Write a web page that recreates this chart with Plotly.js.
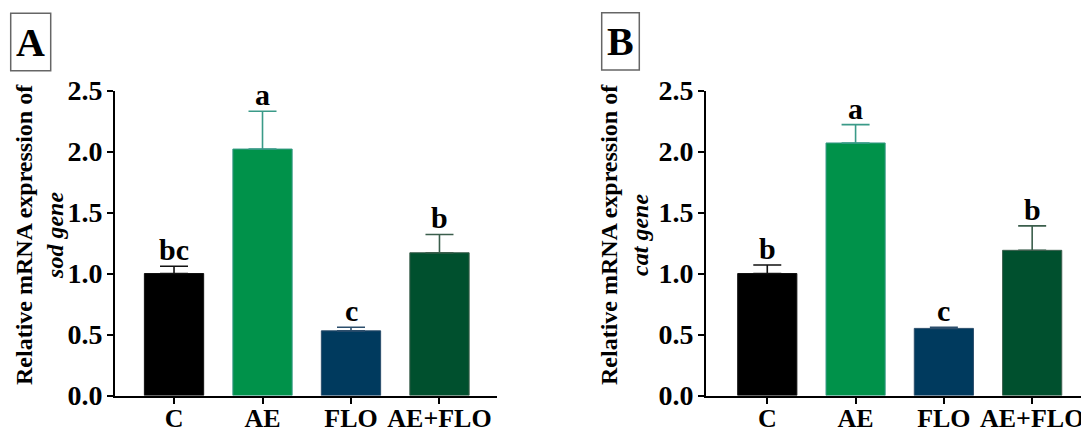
<!DOCTYPE html>
<html>
<head>
<meta charset="utf-8">
<script src="https://cdn.plot.ly/plotly-3.0.1.min.js"></script>
<style>html,body{margin:0;padding:0;background:#fff;}#chart{width:1081px;height:431px;}</style>
</head>
<body>
<div id="chart"></div>
<script>
var categories = ['C', 'AE', 'FLO', 'AE+FLO'];
var sodMean = [1.0, 2.02, 0.53, 1.17];
var sodErr = [0.06, 0.31, 0.03, 0.15];
var sodLetters = ['bc', 'a', 'c', 'b'];
var catMean = [1.0, 2.07, 0.55, 1.19];
var catErr = [0.07, 0.15, 0.01, 0.20];
var catLetters = ['b', 'a', 'c', 'b'];
var yTicks = [0, 0.5, 1.0, 1.5, 2.0, 2.5];
var yTickText = ['0.0', '0.5', '1.0', '1.5', '2.0', '2.5'];

var barColors = ['#000000', '#00924a', '#003a5e', '#00502e'];
var errColors = ['#111111', '#3a9a88', '#2c4e6c', '#3b5e4c'];
var W = 1081, H = 431;
var serif = "'Liberation Serif', 'Times New Roman', Times, serif";

function px(x) { return x / W; }
function py(y) { return 1 - y / H; }

var traces = [];
function addPanel(means, errs, xa, ya) {
  for (var i = 0; i < categories.length; i++) {
    traces.push({
      type: 'bar', x: [categories[i]], y: [means[i]], xaxis: xa, yaxis: ya,
      width: 0.67, showlegend: false, hoverinfo: 'none',
      marker: {color: barColors[i], line: {color: errColors[i], width: 1}},
      error_y: {type: 'data', symmetric: false, array: [errs[i]], arrayminus: [0],
        color: errColors[i], thickness: 1.6, width: 14}
    });
  }
}
addPanel(sodMean, sodErr, 'x', 'y');
addPanel(catMean, catErr, 'x2', 'y2');

var annotations = [];
function addLetters(means, errs, letters, xr, yr) {
  for (var i = 0; i < categories.length; i++) {
    annotations.push({x: categories[i], y: means[i] + errs[i], xref: xr, yref: yr,
      text: '<b>' + letters[i] + '</b>', showarrow: false, xanchor: 'center', yanchor: 'bottom', yshift: -2,
      font: {family: serif, size: 30, color: '#000'}});
  }
}
addLetters(sodMean, sodErr, sodLetters, 'x', 'y');
addLetters(catMean, catErr, catLetters, 'x2', 'y2');

annotations.push({x: px(40), y: py(235), xref: 'paper', yref: 'paper', textangle: -90,
  text: '<b>Relative mRNA expression of</b><br><b><i>sod gene</i></b>', showarrow: false,
  xanchor: 'center', yanchor: 'middle',
  font: {family: serif, size: 24, color: '#000'}});
annotations.push({x: px(625), y: py(235), xref: 'paper', yref: 'paper', textangle: -90,
  text: '<b>Relative mRNA expression of</b><br><b><i>cat gene</i></b>', showarrow: false,
  xanchor: 'center', yanchor: 'middle',
  font: {family: serif, size: 24, color: '#000'}});
annotations.push({x: px(30.7), y: py(42), xref: 'paper', yref: 'paper', text: '<b>A</b>',
  showarrow: false, xanchor: 'center', yanchor: 'middle',
  font: {family: serif, size: 40, color: '#000'}});
annotations.push({x: px(620.5), y: py(41.5), xref: 'paper', yref: 'paper', text: '<b>B</b>',
  showarrow: false, xanchor: 'center', yanchor: 'middle',
  font: {family: serif, size: 40, color: '#000'}});

var shapes = [
  {type: 'rect', xref: 'paper', yref: 'paper', x0: px(10.7), x1: px(50.7), y0: py(13.3), y1: py(70.7),
    line: {color: '#666', width: 1.5}},
  {type: 'rect', xref: 'paper', yref: 'paper', x0: px(601.7), x1: px(639.3), y0: py(12.7), y1: py(70),
    line: {color: '#666', width: 1.5}}
];

function yAxis(anchor) {
  return {anchor: anchor, domain: [py(395.5), py(90.5)], range: [0, 2.5],
    tickvals: yTicks, ticktext: yTickText.map(function (t) { return '<b>' + t + '</b>'; }),
    ticks: 'outside', ticklen: 6, tickwidth: 2, tickcolor: '#000', ticklabelstandoff: -1,
    showline: true, linecolor: '#000', linewidth: 2, showgrid: false, zeroline: false,
    tickfont: {family: serif, size: 28, color: '#000'}, fixedrange: true};
}
function xAxis(anchor, dom, rng) {
  return {anchor: anchor, domain: dom, range: rng, type: 'category', categoryorder: 'array', categoryarray: categories,
    tickvals: categories, ticktext: categories.map(function (t) { return '<b>' + t + '</b>'; }),
    ticks: 'outside', ticklen: 6, tickwidth: 2, tickcolor: '#000', ticklabelstandoff: -8,
    showline: true, linecolor: '#000', linewidth: 2, showgrid: false, zeroline: false,
    tickfont: {family: serif, size: 26, color: '#000'}, fixedrange: true};
}

var layout = {
  width: W, height: H, margin: {l: 0, r: 0, t: 0, b: 0},
  paper_bgcolor: '#fff', plot_bgcolor: '#fff', showlegend: false, barmode: 'overlay',
  xaxis: xAxis('y', [px(115), px(497)], [-0.667, 3.65]),
  yaxis: yAxis('x'),
  xaxis2: xAxis('y2', [px(706), 1], [-0.694, 3.553]),
  yaxis2: yAxis('x2'),
  annotations: annotations, shapes: shapes
};

Plotly.newPlot('chart', traces, layout, {displayModeBar: false, staticPlot: true});
</script>
</body>
</html>
